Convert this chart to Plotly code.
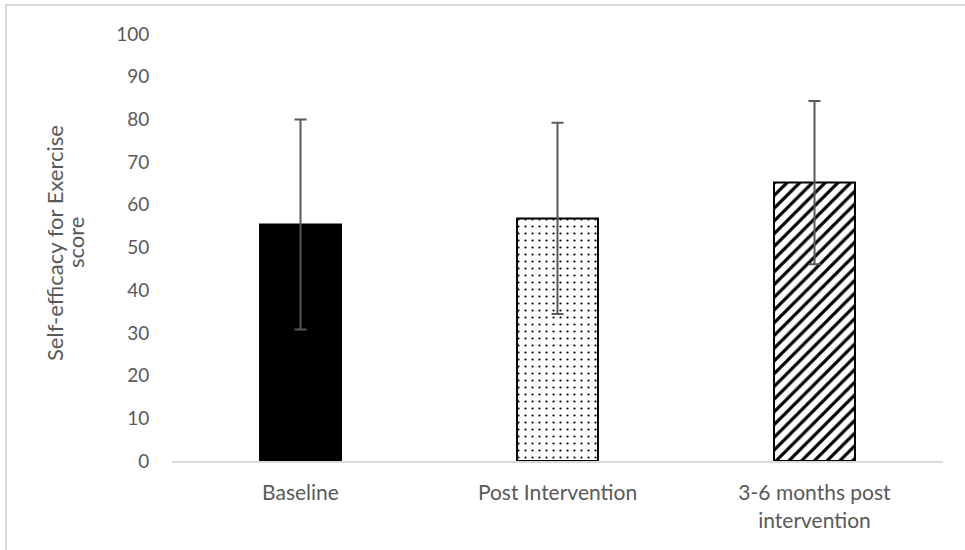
import plotly.graph_objects as go

categories = ["Baseline", "Post Intervention", "3-6 months post<br>intervention"]
means = [55.4, 56.8, 65.2]
errors = [24.6, 22.4, 19.1]
patterns = ["", ".", "/"]
fill_colors = ["black", "white", "white"]
y_ticks = [0, 10, 20, 30, 40, 50, 60, 70, 80, 90, 100]
y_title_lines = ["Self-efficacy for Exercise", "score"]

W, H = 965, 550
L, R, T, B = 172, 22, 34, 89
pw, ph = W - L - R, H - T - B

def px_x(x):
    return (x - L) / pw

def px_y(y):
    return (H - B - y) / ph

font_family = "Lato, 'Open Sans', sans-serif"
pattern_size = {"": 8, ".": 7, "/": 9}
pattern_solidity = {"": 0.3, ".": 0.08, "/": 0.36}

fig = go.Figure()
for cat, m, e, shp, col in zip(categories, means, errors, patterns, fill_colors):
    marker = dict(color=col, line=dict(color="black", width=2))
    if shp:
        marker["pattern"] = dict(shape=shp, fillmode="replace", bgcolor="white",
                                 fgcolor="black", size=pattern_size[shp],
                                 solidity=pattern_solidity[shp])
    fig.add_trace(go.Bar(
        x=[cat], y=[m], marker=marker,
        error_y=dict(type="data", array=[e], visible=True,
                     color="#595959", thickness=2, width=6),
        width=0.315,
    ))

annotations = []
for line_text, xpx in zip(y_title_lines, [54, 75]):
    annotations.append(dict(
        text=line_text, xref="paper", yref="paper",
        x=px_x(xpx), y=px_y(243), xanchor="center", yanchor="middle",
        textangle=-90, showarrow=False,
        font=dict(size=22, color="#595959", family=font_family),
    ))

fig.update_layout(
    width=W, height=H,
    barmode="overlay",
    margin=dict(l=L, r=R, t=T, b=B, autoexpand=False),
    paper_bgcolor="white",
    plot_bgcolor="white",
    showlegend=False,
    font=dict(family=font_family, color="#595959", size=21),
    xaxis=dict(
        showline=True, linecolor="#d9d9d9", linewidth=2,
        showgrid=False, ticks="outside", ticklen=12, tickcolor="rgba(0,0,0,0)",
        tickfont=dict(size=21, color="#595959"),
        categoryorder="array", categoryarray=categories,
    ),
    yaxis=dict(
        range=[0, 100], tickvals=y_ticks, showgrid=False, zeroline=False,
        showline=False, ticks="outside", ticklen=18, tickcolor="rgba(0,0,0,0)",
        tickfont=dict(size=19, color="#595959"),
    ),
    annotations=annotations,
    shapes=[dict(type="rect", xref="paper", yref="paper",
                 x0=px_x(6), x1=px_x(975), y0=px_y(5), y1=px_y(560),
                 line=dict(color="#d9d9d9", width=2), layer="below")],
)

fig.write_html("out.html", config={"displayModeBar": False},
               post_script="document.body.style.margin='0';")
